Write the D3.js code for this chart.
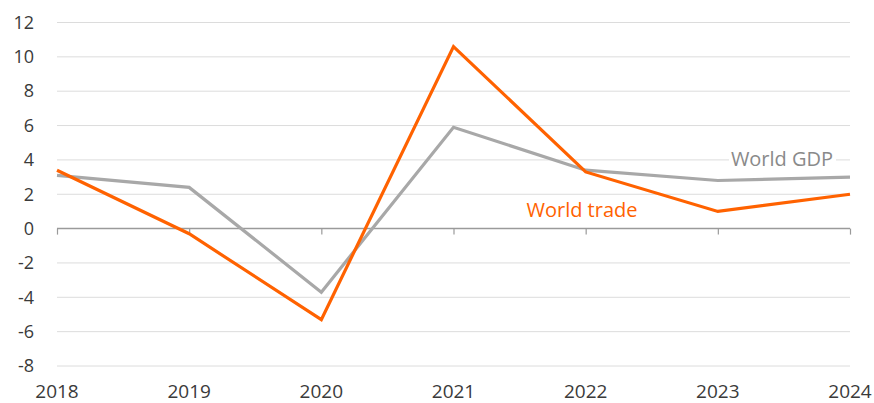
<!DOCTYPE html>
<html>
<head>
<meta charset="utf-8">
<script src="https://cdn.jsdelivr.net/npm/d3@7"></script>
<style>
  html, body { margin: 0; padding: 0; background: #fff; }
  svg { display: block; font-family: "Open Sans", "Noto Sans", sans-serif; }
</style>
</head>
<body>
<svg id="chart" width="874" height="403"></svg>
<script>
// Annual growth, %
const years = ["2018", "2019", "2020", "2021", "2022", "2023", "2024"];
const worldTrade = [3.4, -0.3, -5.3, 10.6, 3.3, 1.0, 2.0];
const worldGDP = [3.1, 2.4, -3.7, 5.9, 3.4, 2.8, 3.0];
const yTicks = [-8, -6, -4, -2, 0, 2, 4, 6, 8, 10, 12];

const svg = d3.select("#chart");
const plot = { left: 57, right: 850, top: 22.5, bottom: 366 };

const x = d3.scalePoint().domain(years).range([plot.left, plot.right]);
const y = d3.scaleLinear().domain([-8, 12]).range([plot.bottom, plot.top]);

// horizontal gridlines
svg.append("g")
  .selectAll("line")
  .data(yTicks.filter(d => d !== 0))
  .join("line")
  .attr("x1", plot.left).attr("x2", plot.right)
  .attr("y1", d => y(d)).attr("y2", d => y(d))
  .attr("stroke", "#dcdcdc").attr("stroke-width", 1);

// y axis labels (plain hyphen for negatives)
const yAxis = d3.axisLeft(y).tickValues(yTicks).tickSize(0).tickPadding(0)
  .tickFormat(d => String(d));
svg.append("g")
  .attr("transform", "translate(34,0)")
  .call(yAxis)
  .call(g => g.select(".domain").remove())
  .call(g => g.selectAll("text")
    .attr("font-family", "Open Sans, Noto Sans, sans-serif")
    .attr("font-size", 18).attr("fill", "#3a3a3a"));

// zero line with year ticks
const zero = d3.axisBottom(x).tickSize(6).tickFormat("");
svg.append("g")
  .attr("transform", `translate(0,${y(0)})`)
  .call(zero)
  .call(g => g.select(".domain").attr("d", `M${plot.left},0H${plot.right}`).attr("stroke", "#9a9a9a").attr("stroke-width", 1.5))
  .call(g => g.selectAll(".tick line").attr("stroke", "#9a9a9a").attr("stroke-width", 1.2));

// year labels along the bottom
svg.append("g")
  .selectAll("text")
  .data(years)
  .join("text")
  .attr("x", d => x(d))
  .attr("y", 398)
  .attr("text-anchor", "middle")
  .attr("font-size", 19)
  .attr("fill", "#3a3a3a")
  .text(d => d);

const line = d3.line().x((d, i) => x(years[i])).y(d => y(d));

svg.append("path")
  .datum(worldGDP)
  .attr("d", line)
  .attr("fill", "none")
  .attr("stroke", "#a8a8a8")
  .attr("stroke-width", 3.2)
  .attr("stroke-linejoin", "miter");

svg.append("path")
  .datum(worldTrade)
  .attr("d", line)
  .attr("fill", "none")
  .attr("stroke", "#ff6200")
  .attr("stroke-width", 3.2)
  .attr("stroke-linejoin", "miter");

// series labels
const gdpLabel = svg.append("g");
gdpLabel.append("rect")
  .attr("x", 729).attr("y", 150).attr("width", 107).attr("height", 20)
  .attr("fill", "#fff");
gdpLabel.append("text")
  .attr("x", 782).attr("y", 166)
  .attr("text-anchor", "middle")
  .attr("font-size", 20)
  .attr("fill", "#8a8a8a")
  .text("World GDP");

svg.append("text")
  .attr("x", 582).attr("y", 217)
  .attr("text-anchor", "middle")
  .attr("font-size", 20)
  .attr("fill", "#ff6200")
  .text("World trade");
</script>
</body>
</html>
